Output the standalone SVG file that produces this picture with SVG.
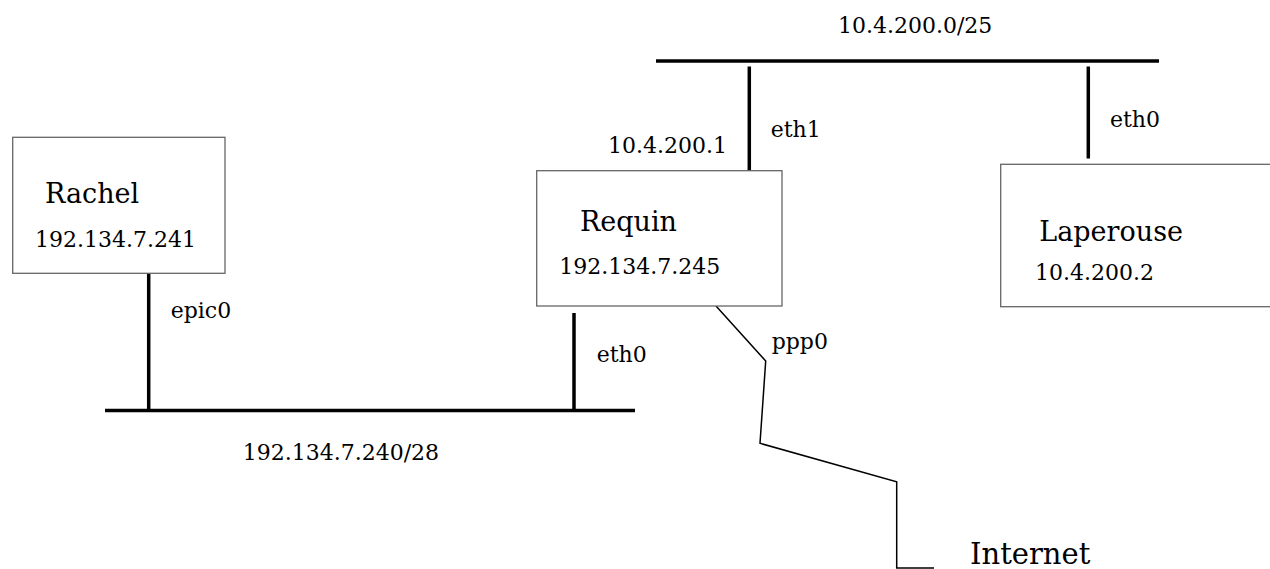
<svg xmlns="http://www.w3.org/2000/svg" width="1270" height="569" viewBox="0 0 1270 569">
<style>
.box{fill:#fff;stroke:#666;stroke-width:1.3}
.bus{stroke:#000;stroke-width:3.5;fill:none}
.link{stroke:#000;stroke-width:1.5;fill:none}
text{font-family:"DejaVu Serif","Liberation Serif",serif;fill:#000}
.name{font-size:27px}
.ip{font-size:22px}
.big{font-size:29px}
</style>
<rect width="1270" height="569" fill="#fff"/>
<g id="connectors">
<line class="bus" x1="105" y1="410.5" x2="635" y2="410.5"/>
<line class="bus" x1="656" y1="61" x2="1159" y2="61"/>
<line class="bus" x1="148.7" y1="273" x2="148.7" y2="410.5"/>
<line class="bus" x1="574" y1="313" x2="574" y2="410.5"/>
<line class="bus" x1="749.3" y1="66.5" x2="749.3" y2="171"/>
<line class="bus" x1="1088.3" y1="66.5" x2="1088.3" y2="158.5"/>
<polyline class="link" points="716,306 765.7,361 760,443.3 896.7,481.7 896.7,568 934,568"/>
</g>
<g id="rachel">
<rect class="box" x="12.7" y="137.3" width="212.3" height="136"/>
<text class="name" x="45" y="203.3">Rachel</text>
<text class="ip" x="35" y="247">192.134.7.241</text>
</g>
<g id="requin">
<rect class="box" x="536.7" y="170.7" width="245.3" height="135.3"/>
<text class="name" x="580" y="230.7">Requin</text>
<text class="ip" x="559.3" y="274">192.134.7.245</text>
</g>
<g id="laperouse">
<rect class="box" x="1000.7" y="164.3" width="275" height="142.4"/>
<text class="name" x="1039.3" y="240.7">Laperouse</text>
<text class="ip" x="1035" y="280">10.4.200.2</text>
</g>
<g id="labels">
<text class="ip" x="838" y="33.3">10.4.200.0/25</text>
<text class="ip" x="242.7" y="460">192.134.7.240/28</text>
<text class="ip" x="608" y="153.3">10.4.200.1</text>
<text class="ip" x="770.7" y="136.7">eth1</text>
<text class="ip" x="1110" y="126.7">eth0</text>
<text class="ip" x="170.7" y="318.3">epic0</text>
<text class="ip" x="596.7" y="361.7">eth0</text>
<text class="ip" x="771.7" y="349">ppp0</text>
<text class="big" x="970" y="564">Internet</text>
</g>
</svg>
